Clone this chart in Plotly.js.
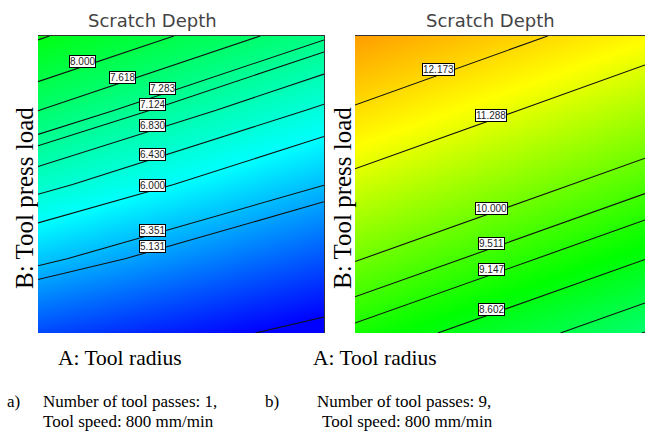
<!DOCTYPE html>
<html><head><meta charset="utf-8">
<script src="https://cdn.plot.ly/plotly-3.0.1.min.js"></script>
<style>html,body{margin:0;padding:0;background:#fff}#chart{width:645px;height:444px}</style>
</head><body><div id="chart"></div>
<script>
// Coded factor levels
const toolRadius = [-1, 1];                      // A (coded)
const toolPressLoad = [-1, -0.5, 0, 0.5, 1];     // B (coded)

// Scratch depth (a): rows = toolPressLoad, cols = toolRadius
const depthPlotA = [
  [4.278, 3.386],
  [5.462, 4.374],
  [6.577, 5.361],
  [7.624, 6.349],
  [8.601, 7.336]
];
// Scratch depth (b)
const depthPlotB = [
  [9.008, 7.585],
  [10.039, 8.611],
  [11.070, 9.637],
  [12.100, 10.663],
  [13.131, 11.689]
];

// Contour levels and their labels
const levelsA = [8.55, 8.000, 7.618, 7.283, 7.124, 6.830, 6.430, 6.000, 5.351, 5.131, 3.6];
const labelTextA = ['', '8.000', '7.618', '7.283', '7.124', '6.830', '6.430', '6.000', '5.351', '5.131', ''];
const labelAtA = [null, -0.692, -0.406, -0.126, -0.196, -0.196, -0.196, -0.196, -0.196, -0.196, null];

const levelsB = [12.173, 11.288, 10.000, 9.511, 9.147, 8.602, 8.000, 7.6];
const labelTextB = ['12.173', '11.288', '10.000', '9.511', '9.147', '8.602', '', ''];
const labelAtB = [-0.421, -0.062, -0.062, -0.062, -0.062, -0.062, null, null];

const colorscale = [[0, 'rgb(0,0,255)'], [0.2, 'rgb(0,255,255)'], [0.4333, 'rgb(0,255,0)'],
                    [0.6667, 'rgb(255,255,0)'], [1, 'rgb(255,0,0)']];
const zLo = 3.6, zHi = 15.6;

const traces = [];
const annotations = [];

function lineB(z, A, level) {
  const t = (A + 1) / 2;
  const col = z.map(r => r[0] * (1 - t) + r[1] * t);
  for (let i = 0; i < col.length - 1; i++) {
    const a = col[i], b = col[i + 1];
    if ((a - level) * (b - level) <= 0) {
      return toolPressLoad[i] + (level - a) / (b - a) * (toolPressLoad[i + 1] - toolPressLoad[i]);
    }
  }
  return null;
}

function addPanel(z, levels, texts, labelAt, xa, ya) {
  traces.push({
    type: 'contour', x: toolRadius, y: toolPressLoad, z: z, xaxis: xa, yaxis: ya,
    colorscale: colorscale, zauto: false, zmin: zLo, zmax: zHi, showscale: false,
    contours: {coloring: 'heatmap', showlines: false}, line: {width: 0}, hoverinfo: 'skip'
  });
  levels.forEach((L, i) => {
    traces.push({
      type: 'contour', x: toolRadius, y: toolPressLoad, z: z, xaxis: xa, yaxis: ya,
      autocontour: false, contours: {start: L, end: L, size: 1, coloring: 'none', showlines: true},
      line: {color: '#111', width: 1.1, smoothing: 0}, showscale: false, hoverinfo: 'skip'
    });
    if (texts[i]) {
      const B = lineB(z, labelAt[i], L);
      annotations.push({
        xref: xa, yref: ya, x: labelAt[i], y: B, text: texts[i], showarrow: false,
        bgcolor: '#ffffff', bordercolor: '#000', borderwidth: 1, borderpad: 0, yshift: 5,
        font: {family: 'Liberation Sans, Arial, sans-serif', size: 10, color: '#222'}
      });
    }
  });
}
addPanel(depthPlotA, levelsA, labelTextA, labelAtA, 'x', 'y');
addPanel(depthPlotB, levelsB, labelTextB, labelAtB, 'x2', 'y2');

const W = 645, H = 444;
function txt(text, px, py, font, extra) {
  return Object.assign({xref: 'paper', yref: 'paper', x: px / W, y: 1 - py / H, text: text,
    showarrow: false, xanchor: 'center', yanchor: 'middle', font: font}, extra || {});
}
const titleFont = {family: 'DejaVu Sans, sans-serif', size: 18, color: '#444'};
const serif = 'Liberation Serif, Times New Roman, serif';
annotations.push(txt('Scratch Depth', 152, 21, titleFont));
annotations.push(txt('Scratch Depth', 490, 21, titleFont));
annotations.push(txt('B: Tool press load', 24, 198, {family: serif, size: 25, color: '#000'}, {textangle: -90}));
annotations.push(txt('B: Tool press load', 342, 198, {family: serif, size: 25, color: '#000'}, {textangle: -90}));
annotations.push(txt('A: Tool radius', 120, 358, {family: serif, size: 21.5, color: '#000'}));
annotations.push(txt('A: Tool radius', 375, 358, {family: serif, size: 21.5, color: '#000'}));
const capFont = {family: serif, size: 17, color: '#000'};
annotations.push(txt('a)', 5, 401, capFont, {xanchor: 'left'}));
annotations.push(txt('Number of tool passes: 1,', 41, 401, capFont, {xanchor: 'left'}));
annotations.push(txt('Tool speed: 800 mm/min', 41, 421, capFont, {xanchor: 'left'}));
annotations.push(txt('b)', 263, 401, capFont, {xanchor: 'left'}));
annotations.push(txt('Number of tool passes: 9,', 315, 401, capFont, {xanchor: 'left'}));
annotations.push(txt('Tool speed: 800 mm/min', 320, 421, capFont, {xanchor: 'left'}));

const axBase = {range: [-1, 1], showgrid: false, zeroline: false, showticklabels: false, ticks: '',
  linecolor: '#333', linewidth: 1, fixedrange: true};
const yDom = [111 / H, 408 / H];
const layout = {
  width: W, height: H, margin: {l: 0, r: 0, t: 0, b: 0},
  paper_bgcolor: '#fff', plot_bgcolor: '#fff', showlegend: false,
  xaxis: Object.assign({}, axBase, {domain: [38 / W, 324 / W], anchor: 'y', side: 'top', showline: true}),
  yaxis: Object.assign({}, axBase, {domain: yDom, anchor: 'x', side: 'right', showline: true}),
  xaxis2: Object.assign({}, axBase, {domain: [355 / W, 1], anchor: 'y2', side: 'top', showline: true}),
  yaxis2: Object.assign({}, axBase, {domain: yDom, anchor: 'x2', side: 'right', showline: false}),
  annotations: annotations
};
Plotly.newPlot('chart', traces, layout, {staticPlot: true, displayModeBar: false});
</script></body></html>
